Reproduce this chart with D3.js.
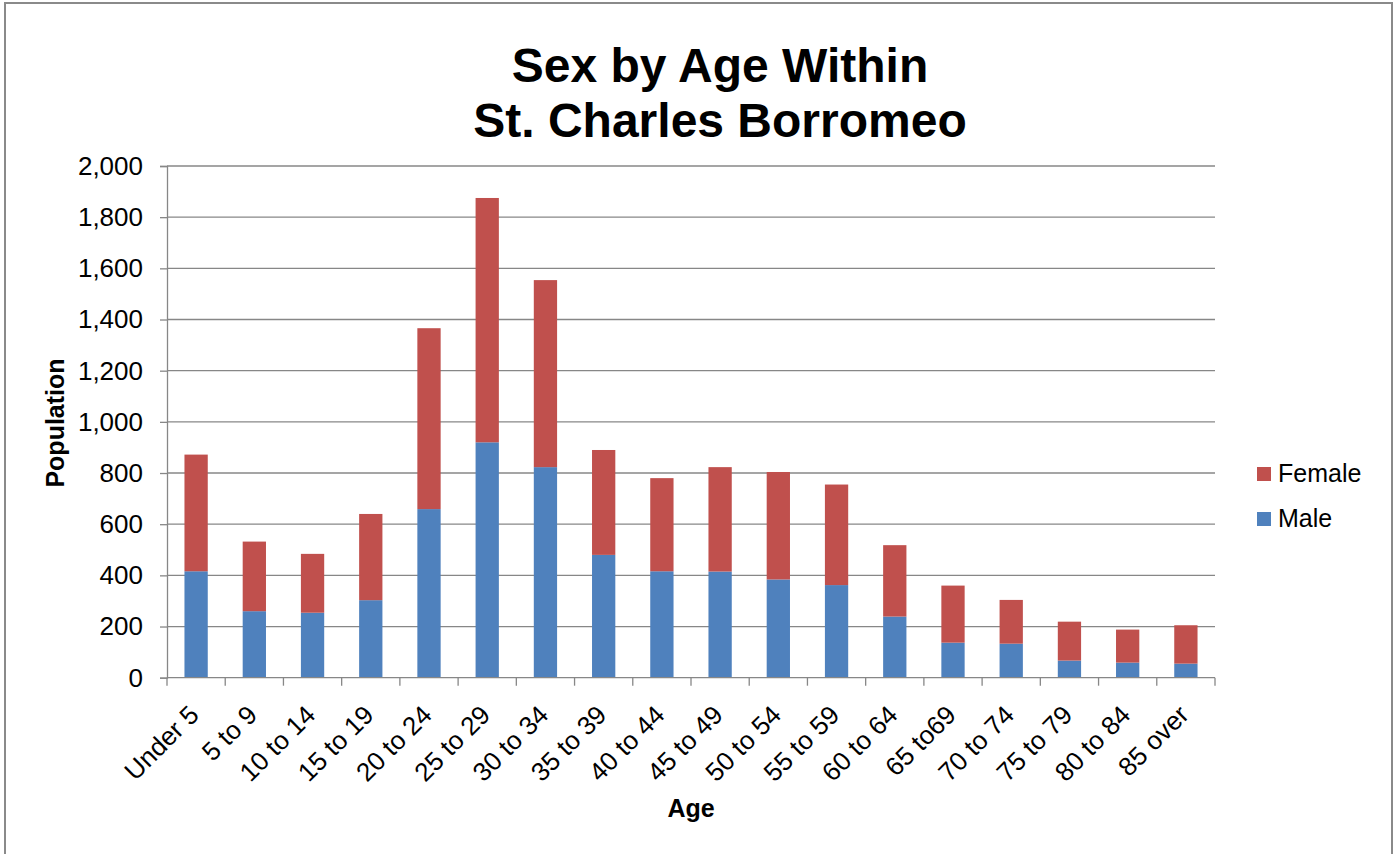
<!DOCTYPE html>
<html>
<head>
<meta charset="utf-8">
<script src="https://cdn.jsdelivr.net/npm/d3@7"></script>
<style>
  html, body { margin: 0; padding: 0; background: #fff; }
  svg { display: block; font-family: "Liberation Sans", Arial, sans-serif; }
</style>
</head>
<body>
<svg id="chart" width="1398" height="854"></svg>
<script>
const categories = ["Under 5","5 to 9","10 to 14","15 to 19","20 to 24","25 to 29","30 to 34","35 to 39","40 to 44","45 to 49","50 to 54","55 to 59","60 to 64","65 to69","70 to 74","75 to 79","80 to 84","85 over"];
const male   = [416,260,254,303,659,920,823,480,416,415,384,362,239,137,133,67,59,55];
const female = [456,272,230,337,707,955,731,410,364,408,420,393,279,223,171,152,129,150];
const yTicks = [0,200,400,600,800,1000,1200,1400,1600,1800,2000];
const seriesNames = ["Male","Female"];
const colors = {Male: "#4F81BD", Female: "#C0504D"};
const titleLines = ["Sex by Age Within","St. Charles Borromeo"];

const svg = d3.select("#chart");
const plotLeft = 167, plotRight = 1215, plotTop = 166, plotBottom = 677.7;

// chart border
svg.append("rect").attr("x",5).attr("y",3).attr("width",1387).attr("height",870)
  .attr("fill","#fff").attr("stroke","#8a8a8a").attr("stroke-width",2);

const x = d3.scaleBand().domain(categories).range([plotLeft,plotRight]).paddingInner(0.6).paddingOuter(0.3);
const y = d3.scaleLinear().domain([0,2000]).range([plotBottom,plotTop]);

// gridlines
svg.append("g").selectAll("line").data(yTicks.filter(d=>d>0)).join("line")
  .attr("x1",plotLeft).attr("x2",plotRight).attr("y1",d=>y(d)).attr("y2",d=>y(d))
  .attr("stroke","#878787").attr("stroke-width",1.3);

// y axis
const yAxis = svg.append("g").attr("transform",`translate(${plotLeft},0)`)
  .call(d3.axisLeft(y).tickValues(yTicks).tickSize(7).tickPadding(17).tickFormat(d3.format(",")));
yAxis.select(".domain").attr("stroke","#878787").attr("stroke-width",1.3);
yAxis.selectAll(".tick line").attr("stroke","#878787").attr("stroke-width",1.3);
yAxis.selectAll("text").attr("font-size",26).attr("fill","#000").attr("font-family","Liberation Sans, Arial, sans-serif");

// stacked data
const rows = categories.map((c,i)=>({cat:c, Male:male[i], Female:female[i]}));
const stack = d3.stack().keys(seriesNames)(rows);
svg.append("g").selectAll("g").data(stack).join("g")
  .attr("fill",d=>colors[d.key])
  .selectAll("rect").data(d=>d).join("rect")
  .attr("x",d=>x(d.data.cat)).attr("width",x.bandwidth())
  .attr("y",d=>y(d[1])).attr("height",d=>y(d[0])-y(d[1]));

// x axis
const boundaries = categories.map(c=>x(c)-x.step()*x.paddingInner()/2).concat([plotRight]);
svg.append("line").attr("x1",plotLeft).attr("x2",plotRight).attr("y1",plotBottom).attr("y2",plotBottom)
  .attr("stroke","#878787").attr("stroke-width",1.3);
svg.append("g").selectAll("line").data(boundaries).join("line")
  .attr("x1",d=>d).attr("x2",d=>d).attr("y1",plotBottom).attr("y2",plotBottom+8)
  .attr("stroke","#878787").attr("stroke-width",1.3);
svg.append("g").selectAll("text").data(categories).join("text")
  .attr("transform",d=>`translate(${x(d)+x.bandwidth()/2-2},710) rotate(-45)`)
  .attr("text-anchor","end").attr("dy","0.35em")
  .attr("font-size",26).attr("fill","#000").text(d=>d);

// titles
svg.append("g").selectAll("text").data(titleLines).join("text")
  .attr("x",720).attr("y",(d,i)=>82+i*55).attr("text-anchor","middle")
  .attr("font-size",48).attr("font-weight","bold").attr("fill","#000").text(d=>d);

svg.append("text").attr("transform","translate(64,423) rotate(-90)")
  .attr("text-anchor","middle").attr("font-size",25).attr("font-weight","bold").text("Population");
svg.append("text").attr("x",691).attr("y",817)
  .attr("text-anchor","middle").attr("font-size",25).attr("font-weight","bold").text("Age");

// legend
const legendItems = ["Female","Male"];
const lg = svg.append("g").selectAll("g").data(legendItems).join("g")
  .attr("transform",(d,i)=>`translate(1257,${467+i*45})`);
lg.append("rect").attr("width",14).attr("height",14).attr("fill",d=>colors[d]);
lg.append("text").attr("x",21).attr("y",15).attr("font-size",25).attr("fill","#000").text(d=>d);
</script>
</body>
</html>
